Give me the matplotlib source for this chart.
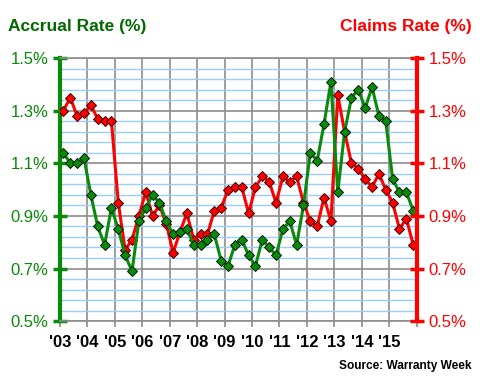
import matplotlib.pyplot as plt
import numpy as np
from matplotlib.ticker import FixedLocator, FuncFormatter

plt.rcParams['font.family'] = ['Liberation Sans', 'DejaVu Sans']

# anos e trimestres (2003 T1 .. 2015 T4)
anos = list(range(2003, 2016))
rotulos_anos = ["'%02d" % (a % 100) for a in anos]

# taxa de provisão (%) - linha verde
accrual = [1.14, 1.10, 1.10, 1.12,
           0.98, 0.86, 0.79, 0.93,
           0.85, 0.75, 0.69, 0.88,
           0.93, 0.98, 0.95, 0.88,
           0.83, 0.84, 0.85, 0.79,
           0.79, 0.81, 0.83, 0.73,
           0.71, 0.79, 0.81, 0.75,
           0.71, 0.81, 0.78, 0.75,
           0.85, 0.88, 0.79, 0.94,
           1.14, 1.11, 1.25, 1.41,
           0.99, 1.22, 1.35, 1.38,
           1.31, 1.39, 1.28, 1.26,
           1.04, 0.99, 0.99, 0.92]

# taxa de sinistros (%) - linha vermelha
claims = [1.30, 1.35, 1.28, 1.29,
          1.32, 1.27, 1.26, 1.26,
          0.95, 0.77, 0.81, 0.90,
          0.99, 0.90, 0.94, 0.87,
          0.76, 0.84, 0.91, 0.81,
          0.83, 0.83, 0.92, 0.93,
          1.00, 1.01, 1.01, 0.91,
          1.01, 1.05, 1.03, 0.95,
          1.05, 1.03, 1.05, 0.95,
          0.88, 0.86, 0.97, 0.88,
          1.36, 1.22, 1.10, 1.08,
          1.04, 1.01, 1.06, 1.00,
          0.95, 0.85, 0.89, 0.79]

# marcas do eixo y
y_maiores = [0.5, 0.7, 0.9, 1.1, 1.3, 1.5]
y_menores = [0.5 + 0.04 * k for k in range(26)]

x = np.array([a + (q + 0.5) / 4 for a in anos for q in range(4)])

verde = '#0a8a0a'
vermelho = '#ff0000'

fig = plt.figure(figsize=(4.8, 3.8), dpi=100)
ax = fig.add_axes([0.125, 0.155, 0.743, 0.692])

ax.set_xlim(2003, 2016)
ax.set_ylim(0.5, 1.5)

# grade: azul clara (menor) e cinza (maior)
ax.yaxis.set_major_locator(FixedLocator(y_maiores))
ax.yaxis.set_minor_locator(FixedLocator(y_menores))
ax.grid(which='minor', axis='y', color='#99ccff', linewidth=1)
ax.grid(which='major', axis='y', color='#8c8c8c', linewidth=1.2)
ax.grid(which='major', axis='x', color='#8c8c8c', linewidth=1.2)
ax.set_axisbelow(True)

ax.plot(x, claims, '-', color=vermelho, linewidth=2.2, marker='D', markersize=5.5,
        markerfacecolor=vermelho, markeredgecolor='#400000', markeredgewidth=0.7, zorder=3)
ax.plot(x, accrual, '-', color=verde, linewidth=2.2, marker='D', markersize=5.5,
        markerfacecolor=verde, markeredgecolor='#002000', markeredgewidth=0.7, zorder=4)

ax.set_xticks(anos + [2016])
ax.set_xticklabels(rotulos_anos + [''], fontsize=12, fontweight='bold')
ax.tick_params(axis='x', which='major', direction='out', length=4, color='#8c8c8c', width=1.2, pad=6)
ax.tick_params(axis='y', which='minor', length=0)
ax.tick_params(axis='y', which='major', direction='inout', length=10, width=2.5, color=verde,
               labelcolor=verde, labelsize=12)
fmt = FuncFormatter(lambda v, p: '%.1f%%' % v)
ax.yaxis.set_major_formatter(fmt)

ax.spines['left'].set_color(verde)
ax.spines['left'].set_linewidth(3)
ax.spines['right'].set_visible(False)
ax.spines['top'].set_color('#8c8c8c')
ax.spines['bottom'].set_color('#8c8c8c')
ax.spines['bottom'].set_linewidth(1.2)
ax.spines['top'].set_linewidth(1.2)

# eixo direito para a taxa de sinistros
ax2 = ax.twinx()
ax2.set_ylim(0.5, 1.5)
ax2.yaxis.set_major_locator(FixedLocator(y_maiores))
ax2.yaxis.set_major_formatter(fmt)
ax2.tick_params(axis='y', direction='inout', length=10, width=2.5, color=vermelho,
                labelcolor=vermelho, labelsize=12)
for s in ['left', 'top', 'bottom']:
    ax2.spines[s].set_visible(False)
ax2.spines['right'].set_color(vermelho)
ax2.spines['right'].set_linewidth(3)

fig.text(0.017, 0.93, 'Accrual Rate (%)', color='#006a00', fontsize=12.5,
         fontweight='bold', ha='left', va='center')
fig.text(0.983, 0.93, 'Claims Rate (%)', color=vermelho, fontsize=12.5,
         fontweight='bold', ha='right', va='center')
fig.text(0.983, 0.02, 'Source: Warranty Week', color='black', fontsize=8.6,
         fontweight='bold', ha='right', va='bottom')

fig.savefig('out.png', dpi=100, facecolor='white')
